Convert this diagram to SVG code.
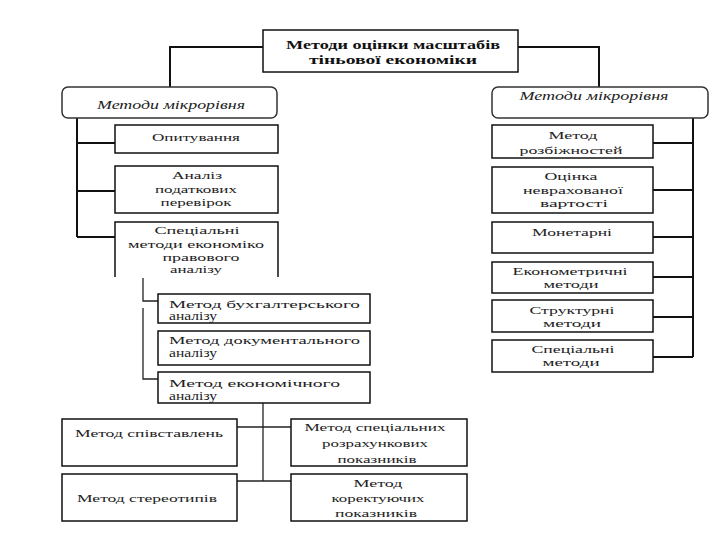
<svg xmlns="http://www.w3.org/2000/svg" width="720" height="540" viewBox="0 0 720 540" font-family="'Liberation Serif', 'DejaVu Serif', 'Times New Roman', serif">
<style>
.box{fill:#fff;stroke:#111;stroke-width:1.5}
.rbox{fill:#fff;stroke:#333;stroke-width:1.5}
.c{fill:none;stroke:#111;stroke-width:2}
.c1{fill:none;stroke:#222;stroke-width:1.3}
text{font-family:'Liberation Serif','DejaVu Serif','Times New Roman',serif;font-size:11px;fill:#222}
.m{text-anchor:middle}
.b{font-weight:bold;fill:#111;font-size:12px}
.i{font-style:italic;font-size:12px}
.s{font-size:12px}
</style>
<rect width="720" height="540" fill="#fff"/>
<g id="connectors">
<polyline class="c" points="263,47 170,47 170,87"/>
<polyline class="c" points="518,47 599,47 599,87"/>
<line class="c" x1="77" y1="118" x2="77" y2="237"/>
<line class="c" x1="77" y1="143" x2="115" y2="143"/>
<line class="c" x1="77" y1="191" x2="115" y2="191"/>
<line class="c" x1="77" y1="237" x2="115" y2="237"/>
<line class="c" x1="693" y1="118" x2="693" y2="357"/>
<line class="c" x1="653" y1="143" x2="693" y2="143"/>
<line class="c" x1="653" y1="190" x2="693" y2="190"/>
<line class="c" x1="653" y1="237" x2="693" y2="237"/>
<line class="c" x1="653" y1="277" x2="693" y2="277"/>
<line class="c" x1="653" y1="317" x2="693" y2="317"/>
<line class="c" x1="653" y1="357" x2="693" y2="357"/>
<polyline class="c1" points="143,278 143,301 158,301"/>
<polyline class="c1" points="143,308 143,379 158,379"/>
<line class="c1" x1="263" y1="403" x2="263" y2="481"/>
<line class="c1" x1="237" y1="427" x2="291" y2="427"/>
<line class="c1" x1="237" y1="481" x2="291" y2="481"/>
</g>
<g id="root">
<rect class="box" x="263" y="30" width="255" height="42"/>
<text class="m b" x="393" y="49" textLength="214" lengthAdjust="spacingAndGlyphs">Методи оцінки масштабів</text>
<text class="m b" x="393" y="64" textLength="168" lengthAdjust="spacingAndGlyphs">тіньової економіки</text>
</g>
<g id="micro">
<rect class="rbox" x="62" y="87" width="215" height="31" rx="6"/>
<text class="m i" x="171" y="109" textLength="148" lengthAdjust="spacingAndGlyphs">Методи мікрорівня</text>
</g>
<g id="macro">
<rect class="rbox" x="492" y="87" width="216" height="31" rx="6"/>
<text class="m i" x="594" y="100" textLength="149" lengthAdjust="spacingAndGlyphs">Методи мікрорівня</text>
</g>
<g id="opytuvannia">
<rect class="box" x="115" y="125" width="163" height="28"/>
<text class="m" x="196" y="141" textLength="88" lengthAdjust="spacingAndGlyphs">Опитування</text>
</g>
<g id="analiz">
<rect class="box" x="115" y="166" width="163" height="47"/>
<text class="m" x="197" y="179" textLength="50" lengthAdjust="spacingAndGlyphs">Аналіз</text>
<text class="m" x="196" y="193" textLength="82" lengthAdjust="spacingAndGlyphs">податкових</text>
<text class="m" x="196" y="206" textLength="71" lengthAdjust="spacingAndGlyphs">перевірок</text>
</g>
<g id="spetsialni-left">
<path class="box" d="M115,277 L115,222 L278,222 L278,277"/>
<text class="m" x="197" y="234" textLength="85" lengthAdjust="spacingAndGlyphs">Спеціальні</text>
<text class="m" x="196" y="248" textLength="136" lengthAdjust="spacingAndGlyphs">методи економіко</text>
<text class="m" x="201" y="261" textLength="77" lengthAdjust="spacingAndGlyphs">правового</text>
<text class="m" x="196" y="273" textLength="52" lengthAdjust="spacingAndGlyphs">аналізу</text>
</g>
<g id="buh">
<rect class="box" x="158" y="294" width="212" height="29"/>
<text x="169" y="308" textLength="191" lengthAdjust="spacingAndGlyphs">Метод бухгалтерського</text>
<text class="s" x="169" y="320" textLength="48" lengthAdjust="spacingAndGlyphs">аналізу</text>
</g>
<g id="dok">
<rect class="box" x="158" y="331" width="212" height="34"/>
<text x="169" y="344" textLength="191" lengthAdjust="spacingAndGlyphs">Метод документального</text>
<text class="s" x="169" y="357" textLength="48" lengthAdjust="spacingAndGlyphs">аналізу</text>
</g>
<g id="ekon">
<rect class="box" x="158" y="372" width="212" height="31"/>
<text x="169" y="387" textLength="171" lengthAdjust="spacingAndGlyphs">Метод економічного</text>
<text class="s" x="169" y="400" textLength="48" lengthAdjust="spacingAndGlyphs">аналізу</text>
</g>
<g id="spivst">
<rect class="box" x="62" y="419" width="175" height="47"/>
<text class="m" x="149" y="437" textLength="148" lengthAdjust="spacingAndGlyphs">Метод співставлень</text>
</g>
<g id="stereo">
<rect class="box" x="62" y="474" width="175" height="47"/>
<text class="m" x="147" y="502" textLength="140" lengthAdjust="spacingAndGlyphs">Метод стереотипів</text>
</g>
<g id="rozrah">
<rect class="box" x="291" y="419" width="176" height="47"/>
<text class="m" x="375" y="431" textLength="141" lengthAdjust="spacingAndGlyphs">Метод спеціальних</text>
<text class="m" x="375" y="447" textLength="106" lengthAdjust="spacingAndGlyphs">розрахункових</text>
<text class="m" x="377" y="463" textLength="79" lengthAdjust="spacingAndGlyphs">показників</text>
</g>
<g id="korekt">
<rect class="box" x="291" y="474" width="176" height="47"/>
<text class="m" x="378" y="487" textLength="49" lengthAdjust="spacingAndGlyphs">Метод</text>
<text class="m" x="378" y="502" textLength="93" lengthAdjust="spacingAndGlyphs">коректуючих</text>
<text class="m" x="376" y="517" textLength="82" lengthAdjust="spacingAndGlyphs">показників</text>
</g>
<g id="rozbizh">
<rect class="box" x="492" y="125" width="161" height="33"/>
<text class="m" x="573" y="139" textLength="49" lengthAdjust="spacingAndGlyphs">Метод</text>
<text class="m" x="571" y="154" textLength="103" lengthAdjust="spacingAndGlyphs">розбіжностей</text>
</g>
<g id="otsinka">
<rect class="box" x="492" y="167" width="161" height="46"/>
<text class="m" x="571" y="180" textLength="53" lengthAdjust="spacingAndGlyphs">Оцінка</text>
<text class="m" x="573" y="194" textLength="100" lengthAdjust="spacingAndGlyphs">неврахованої</text>
<text class="m" x="574" y="207" textLength="68" lengthAdjust="spacingAndGlyphs">вартості</text>
</g>
<g id="monetarni">
<rect class="box" x="492" y="222" width="161" height="31"/>
<text class="m" x="572" y="236" textLength="80" lengthAdjust="spacingAndGlyphs">Монетарні</text>
</g>
<g id="ekonometr">
<rect class="box" x="492" y="262" width="161" height="31"/>
<text class="m" x="570" y="275" textLength="115" lengthAdjust="spacingAndGlyphs">Економетричні</text>
<text class="m" x="571" y="288" textLength="55" lengthAdjust="spacingAndGlyphs">методи</text>
</g>
<g id="struktur">
<rect class="box" x="492" y="300" width="161" height="32"/>
<text class="m" x="572" y="314" textLength="85" lengthAdjust="spacingAndGlyphs">Структурні</text>
<text class="m" x="572" y="327" textLength="58" lengthAdjust="spacingAndGlyphs">методи</text>
</g>
<g id="spetsialni-right">
<rect class="box" x="492" y="340" width="161" height="32"/>
<text class="m" x="573" y="353" textLength="83" lengthAdjust="spacingAndGlyphs">Спеціальні</text>
<text class="m" x="571" y="366" textLength="57" lengthAdjust="spacingAndGlyphs">методи</text>
</g>
</svg>
